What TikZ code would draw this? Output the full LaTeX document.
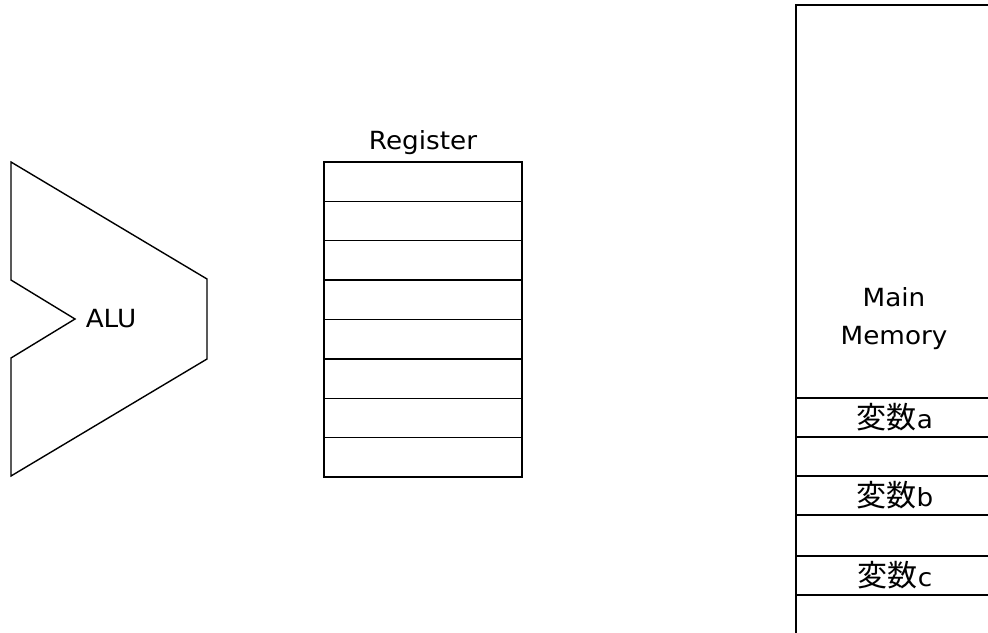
\documentclass[tikz,border=0pt]{standalone}
\usepackage{fontspec}
\setmainfont{DejaVu Sans}[FakeStretch=1.05]
\newfontfamily\cjk{Noto Sans CJK JP}
\begin{document}
\begin{tikzpicture}[x=0.75pt,y=-0.75pt,line width=1.05pt,
  every node/.style={inner sep=0pt,outer sep=0pt},
  lbl/.style={font=\fontsize{18.75}{28.5}\selectfont},
  cell/.style={draw,minimum width=148.5pt,minimum height=29.53pt},
  varcell/.style={draw,fill=white,minimum width=148.5pt,minimum height=29.25pt,font=\fontsize{18.75}{20}\selectfont}]
\useasboundingbox (0,0) rectangle (988,632);
\clip (0,0) rectangle (988,632);
% ALU
\draw[line join=miter] (11,162) -- (207,279) -- (207,359) -- (11,476) -- (11,358) -- (75,319) -- (11,280) -- cycle;
\node[lbl] (alu) at (111,319) {ALU};
% Register
\foreach \i in {1,...,8}{
  \node[cell] (r\i) at (423,{162+39.375*(\i-0.5)}) {};
}
\node[lbl,anchor=south] (reglbl) at (423,155) {Register};
% Main memory
\node[draw,minimum width=148.5pt,minimum height=491pt] (mem) at (895,332.5) {};
\node[lbl,align=center] (memlbl) at (894,319) {Main\\Memory};
\node[varcell] (va) at (895,417.5) {{\cjk\fontsize{22.5}{24}\selectfont 変数}a};
\node[varcell] (vb) at (895,495.5) {{\cjk\fontsize{22.5}{24}\selectfont 変数}b};
\node[varcell] (vc) at (895,575.5) {{\cjk\fontsize{22.5}{24}\selectfont 変数}c};
\end{tikzpicture}
\end{document}
